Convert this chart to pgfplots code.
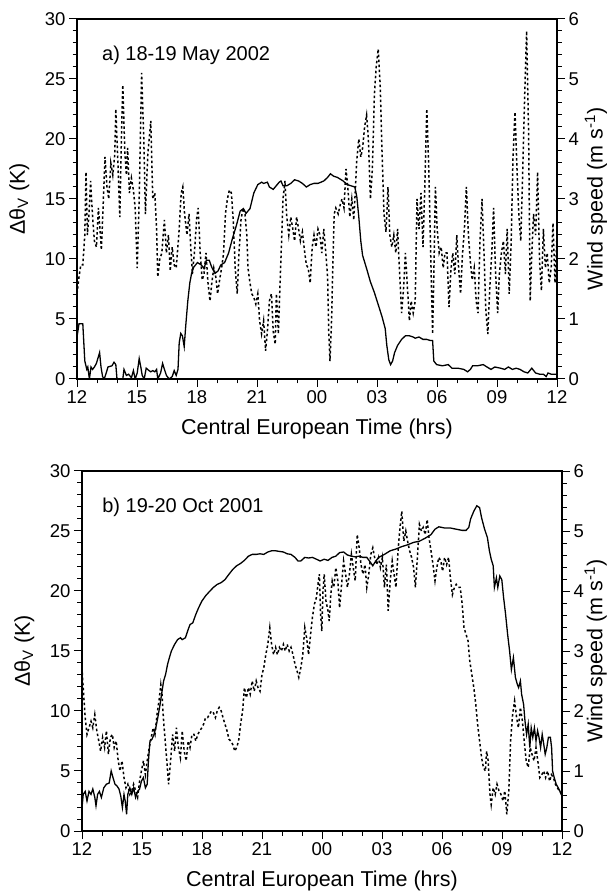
\documentclass[border=0pt]{standalone}
\usepackage{fontspec}
\setmainfont{Liberation Sans}
\usepackage{pgfplots}
\usepackage{pgfplotstable}
\pgfplotsset{compat=1.18}

% hours after 12:00 CET; dt in K, ws in m/s
\pgfplotstableread{
h dt
0.00 3.5
0.10 4.6
0.29 4.6
0.39 1.5
0.49 0.8
0.54 1.0
0.62 0
0.70 1.0
0.78 0.8
0.87 1.0
0.97 1.3
1.13 2.2
1.20 1.0
1.28 0.2
1.36 0
1.46 0.5
1.55 1.0
1.75 1.1
1.85 1.4
1.94 1.2
2.00 0
2.29 0
2.35 0.8
2.47 0.3
2.58 0.4
2.72 0.1
2.82 0.7
2.91 0
3.01 0.5
3.11 1.7
3.19 1.0
3.26 0.3
3.36 0
3.46 0.9
3.60 0.7
3.69 0.6
3.79 0.7
3.89 0.6
3.98 0.8
4.04 0.0
4.18 0.5
4.28 1.3
4.37 0.8
4.47 0.3
4.61 0
4.76 0.2
4.86 0.7
4.96 0.3
5.05 0.8
5.11 3.0
5.19 3.8
5.27 3.6
5.36 2.7
5.44 4.5
5.54 6.5
5.64 8.0
5.73 8.8
5.83 9.3
6.02 9.7
6.22 9.5
6.35 9.2
6.47 9.9
6.61 9.9
6.74 9.3
6.90 8.8
7.05 9.0
7.19 9.5
7.38 9.7
7.58 10.5
7.77 11.7
7.97 12.8
8.16 14.0
8.32 14.2
8.45 13.8
8.65 14.2
8.84 15.5
9.04 16.2
9.23 16.4
9.33 16.3
9.52 16.4
9.62 16.0
9.81 15.8
10.01 16.2
10.11 16.4
10.20 16.5
10.30 16.1
10.49 16.1
10.69 16.3
10.88 16.6
11.08 16.5
11.27 16.3
11.47 16.0
11.66 16.2
11.85 16.3
12.05 16.3
12.34 16.5
12.53 16.8
12.67 17.1
12.83 16.9
13.02 16.8
13.31 16.5
13.51 16.2
13.70 16.1
13.89 16.0
13.99 15.2
14.09 13.5
14.19 11.5
14.28 10.3
14.48 9.2
14.67 8.1
14.87 7.2
15.06 6.2
15.25 5.2
15.41 4.2
15.49 2.8
15.59 1.6
15.68 1.2
15.78 1.5
15.88 2.2
16.03 2.8
16.23 3.3
16.42 3.6
16.62 3.6
16.81 3.5
16.91 3.4
17.10 3.5
17.30 3.3
17.49 3.3
17.68 3.2
17.78 3.2
17.84 1.5
17.98 1.2
18.27 1.1
18.56 1.2
18.75 0.9
19.04 0.9
19.34 0.8
19.53 0.6
19.67 0.8
19.78 1.1
20.02 1.1
20.31 1.2
20.50 1.0
20.70 0.8
20.89 1.0
21.18 0.9
21.38 0.8
21.57 1.0
21.77 0.8
21.96 0.9
22.15 0.8
22.35 0.6
22.54 0.5
22.74 0.9
22.93 0.5
23.13 0.4
23.32 0.4
23.46 0.2
23.55 0.5
23.71 0.4
23.90 0.4
24.00 0.4
}\dtMay

\pgfplotstableread{
h ws
0.00 1.42
0.10 1.7
0.19 1.9
0.29 1.9
0.39 2.4
0.45 3.45
0.52 2.4
0.60 2.75
0.68 3.3
0.78 2.7
0.87 2.3
0.97 2.2
1.07 2.85
1.17 2.4
1.22 2.15
1.32 3.0
1.40 3.7
1.50 3.2
1.59 3.0
1.69 3.6
1.79 3.4
1.89 3.75
1.94 4.5
2.04 3.65
2.14 2.7
2.23 4.15
2.29 4.9
2.39 3.8
2.47 3.4
2.53 3.85
2.62 3.1
2.72 3.35
2.82 3.15
2.91 2.85
3.01 1.85
3.11 3.0
3.23 5.1
3.34 4.0
3.42 2.75
3.54 3.75
3.69 4.3
3.79 3.0
3.89 3.1
3.98 2.5
4.04 1.7
4.14 2.0
4.24 2.1
4.37 2.65
4.47 2.1
4.57 2.4
4.66 1.8
4.76 2.2
4.86 1.9
4.96 1.85
5.09 2.4
5.21 3.1
5.29 3.2
5.38 2.75
5.50 2.4
5.60 2.75
5.67 2.3
5.77 1.75
5.87 2.1
5.99 2.7
6.06 2.85
6.16 2.1
6.26 1.65
6.35 1.75
6.45 2.1
6.55 1.6
6.65 1.3
6.74 1.6
6.84 1.85
6.94 1.7
7.03 1.42
7.13 1.65
7.23 1.85
7.33 2.1
7.42 2.75
7.52 3.0
7.62 3.15
7.72 3.1
7.81 2.65
7.91 1.85
8.01 1.42
8.10 2.1
8.20 2.65
8.30 2.85
8.40 2.75
8.49 2.4
8.55 1.85
8.65 1.6
8.74 1.42
8.84 1.36
8.94 1.25
9.04 1.42
9.13 0.97
9.23 0.75
9.33 0.97
9.43 0.47
9.52 0.8
9.62 1.3
9.72 1.42
9.81 0.8
9.91 0.58
9.97 1.42
10.07 0.75
10.14 1.47
10.24 2.4
10.30 3.0
10.40 3.3
10.49 2.7
10.59 2.4
10.69 2.7
10.79 2.5
10.88 2.3
10.98 2.7
11.08 2.5
11.17 2.3
11.27 2.45
11.37 2.15
11.47 1.9
11.56 1.85
11.66 1.6
11.76 2.2
11.85 2.4
11.95 2.2
12.05 2.5
12.15 2.4
12.24 2.1
12.34 2.5
12.44 2.1
12.53 1.7
12.59 0.75
12.65 0.3
12.73 1.0
12.79 1.85
12.86 2.75
12.94 2.85
13.06 2.75
13.16 2.9
13.25 3.0
13.35 2.85
13.45 3.5
13.54 3.2
13.64 2.7
13.74 3.0
13.84 2.65
13.91 3.1
13.99 3.65
14.09 4.0
14.19 3.7
14.28 3.85
14.38 4.2
14.48 4.4
14.57 4.0
14.67 3.0
14.77 3.5
14.87 4.75
14.96 5.2
15.06 5.5
15.16 4.9
15.25 3.8
15.35 2.75
15.45 2.45
15.55 3.2
15.64 2.4
15.74 2.2
15.84 2.4
15.94 2.1
16.03 2.5
16.13 1.75
16.23 1.1
16.32 1.47
16.42 2.1
16.52 1.53
16.62 0.97
16.71 1.3
16.81 1.1
16.91 1.3
17.00 3.0
17.10 2.5
17.20 3.1
17.30 2.2
17.39 3.2
17.49 4.5
17.59 3.5
17.68 2.15
17.78 0.75
17.84 1.7
17.92 3.2
18.01 2.5
18.11 2.1
18.21 2.2
18.31 1.85
18.40 2.1
18.50 2.1
18.60 1.2
18.69 1.8
18.79 2.1
18.89 1.75
18.99 2.4
19.08 1.85
19.18 1.42
19.28 2.1
19.37 2.5
19.47 3.2
19.57 2.4
19.67 1.95
19.76 1.65
19.86 1.85
19.96 1.3
20.05 1.1
20.15 2.3
20.25 3.0
20.35 2.1
20.44 1.15
20.54 0.75
20.64 1.53
20.74 2.1
20.83 2.85
20.93 1.75
21.03 1.1
21.12 1.75
21.22 2.1
21.32 2.3
21.42 1.75
21.51 2.5
21.61 1.42
21.71 2.3
21.80 3.7
21.90 4.45
22.00 3.5
22.09 2.75
22.19 2.3
22.29 3.5
22.39 4.8
22.48 5.8
22.58 4.1
22.66 1.3
22.74 2.1
22.83 2.75
22.93 2.4
23.03 3.45
23.13 1.95
23.22 1.47
23.32 2.5
23.42 1.85
23.51 2.1
23.61 1.6
23.71 1.85
23.80 2.6
23.90 1.6
24.00 2.4
}\wsMay

\pgfplotstableread{
h dt
0.00 1.9
0.06 3.05
0.16 3.3
0.25 2.5
0.35 3.3
0.45 3.05
0.54 3.5
0.64 2.8
0.70 2.1
0.78 3.05
0.87 3.3
0.97 2.8
1.09 3.6
1.22 3.9
1.36 4.0
1.46 5.0
1.55 4.45
1.65 3.9
1.75 3.75
1.85 3.5
1.94 2.9
2.02 1.95
2.10 3.05
2.16 2.5
2.23 1.4
2.29 3.05
2.39 3.6
2.49 3.05
2.58 3.6
2.68 2.8
2.78 3.3
2.88 3.5
2.97 4.15
3.07 4.45
3.17 3.6
3.26 3.9
3.32 5.8
3.40 7.5
3.50 7.65
3.60 8.05
3.69 8.6
3.79 9.45
3.89 10.4
3.98 11.4
4.08 12.5
4.18 13.05
4.28 13.9
4.37 14.45
4.47 15.0
4.63 15.55
4.78 15.95
4.92 16.1
5.01 15.95
5.17 16.1
5.31 16.8
5.40 17.2
5.54 17.35
5.69 18.05
5.83 18.6
5.99 19.15
6.18 19.6
6.37 19.95
6.57 20.3
6.76 20.55
6.96 20.7
7.15 20.95
7.35 21.4
7.54 21.8
7.73 22.1
7.93 22.3
8.12 22.55
8.32 22.9
8.51 23.05
8.71 23.05
8.90 23.1
9.09 23.05
9.29 23.25
9.48 23.35
9.68 23.35
9.87 23.3
10.07 23.25
10.26 23.1
10.45 23.05
10.65 22.8
10.80 22.5
10.94 22.5
11.14 22.8
11.33 22.75
11.52 22.8
11.72 22.65
11.91 22.5
12.11 22.65
12.30 22.55
12.50 22.8
12.69 22.9
12.88 23.2
13.08 23.25
13.27 23.0
13.47 22.9
13.66 22.85
13.86 22.9
14.05 22.8
14.24 22.8
14.44 22.35
14.54 22.1
14.63 22.35
14.83 22.8
15.12 23.05
15.41 23.35
15.70 23.5
15.99 23.7
16.28 23.85
16.58 24.05
16.87 24.15
17.16 24.4
17.45 24.7
17.65 25.15
17.84 25.35
18.13 25.25
18.42 25.25
18.71 25.15
19.01 25.05
19.20 25.05
19.34 25.3
19.43 26.0
19.59 26.65
19.74 27.1
19.88 26.95
19.98 26.1
20.13 25.15
20.27 24.45
20.37 23.35
20.46 22.65
20.56 22.1
20.62 20.3
20.72 21.1
20.79 20.3
20.89 21.25
20.99 20.95
21.08 19.45
21.18 18.05
21.28 16.4
21.38 15.0
21.47 13.45
21.57 14.45
21.67 12.8
21.77 12.2
21.83 11.95
21.92 12.5
21.98 11.4
22.08 10.55
22.15 9.15
22.23 8.05
22.31 8.9
22.39 6.95
22.46 8.6
22.54 7.8
22.62 8.6
22.70 7.5
22.78 8.35
22.85 7.8
22.93 6.95
23.01 8.05
23.09 7.2
23.16 6.4
23.24 6.95
23.32 7.8
23.42 7.8
23.48 6.95
23.53 5.0
23.61 4.45
23.71 3.9
23.81 3.6
23.90 3.3
24.00 2.9
}\dtOct

\pgfplotstableread{
h ws
0.00 2.72
0.06 2.39
0.16 1.89
0.25 1.61
0.35 1.72
0.45 1.83
0.54 1.72
0.64 1.94
0.74 1.67
0.84 1.5
0.93 1.33
1.03 1.56
1.13 1.39
1.22 1.67
1.32 1.28
1.42 1.56
1.52 1.61
1.61 1.39
1.71 1.5
1.81 1.17
1.90 1.0
2.00 1.17
2.10 0.89
2.20 0.72
2.29 0.78
2.39 0.61
2.49 0.67
2.58 0.78
2.68 0.67
2.78 0.56
2.88 0.83
2.97 1.0
3.07 1.17
3.17 0.94
3.26 1.17
3.36 1.39
3.46 1.56
3.56 1.72
3.65 1.61
3.75 1.94
3.85 2.17
3.94 2.44
4.00 2.28
4.08 1.83
4.16 1.5
4.24 1.17
4.33 0.78
4.43 1.17
4.53 1.61
4.63 1.33
4.72 1.72
4.82 1.39
4.92 1.22
5.01 1.67
5.11 1.33
5.21 1.17
5.31 1.5
5.40 1.39
5.50 1.61
5.60 1.61
5.69 1.5
5.79 1.61
5.89 1.67
5.99 1.72
6.08 1.78
6.18 1.89
6.28 1.89
6.37 1.94
6.47 2.0
6.57 1.97
6.67 1.89
6.76 2.0
6.86 2.06
6.96 2.0
7.05 1.89
7.15 1.78
7.25 1.67
7.35 1.53
7.44 1.5
7.54 1.44
7.64 1.33
7.73 1.39
7.83 1.5
7.93 1.78
8.03 2.0
8.12 2.39
8.22 2.22
8.32 2.39
8.41 2.28
8.51 2.5
8.61 2.33
8.71 2.5
8.80 2.39
8.90 2.33
9.00 2.61
9.09 2.72
9.19 2.94
9.29 3.11
9.39 3.39
9.48 3.11
9.58 2.94
9.68 3.06
9.77 2.94
9.87 3.06
9.97 3.0
10.07 3.11
10.16 3.0
10.26 3.11
10.36 3.0
10.45 3.06
10.55 2.94
10.65 2.78
10.75 2.67
10.84 2.56
10.94 2.72
11.04 2.94
11.14 3.39
11.23 3.22
11.33 2.94
11.43 3.28
11.52 3.56
11.62 3.78
11.72 3.89
11.82 4.17
11.87 4.28
11.93 3.61
11.99 3.33
12.05 4.0
12.11 4.28
12.20 3.83
12.30 3.67
12.36 3.5
12.44 3.94
12.51 4.17
12.59 4.06
12.69 4.39
12.79 4.17
12.88 3.72
12.98 4.11
13.08 4.5
13.18 4.28
13.27 4.06
13.37 4.28
13.47 4.61
13.56 4.39
13.66 4.17
13.76 4.94
13.86 4.72
13.95 4.44
14.05 4.28
14.15 4.44
14.24 4.06
14.34 4.28
14.44 4.61
14.54 4.72
14.63 4.56
14.73 4.44
14.83 4.56
14.92 4.39
15.02 4.56
15.12 4.06
15.22 4.44
15.31 3.67
15.41 4.17
15.51 4.5
15.60 4.28
15.70 4.06
15.80 4.67
15.90 5.06
15.99 5.33
16.09 4.83
16.19 5.0
16.28 4.83
16.38 4.67
16.48 4.56
16.58 4.39
16.67 4.06
16.77 4.56
16.87 5.11
16.97 5.0
17.06 5.06
17.16 4.94
17.26 5.19
17.35 4.89
17.45 4.67
17.55 4.44
17.65 4.17
17.74 4.39
17.84 4.56
17.94 4.5
18.03 4.33
18.13 4.56
18.23 4.44
18.33 4.56
18.42 4.22
18.52 3.94
18.62 4.06
18.71 4.11
18.81 4.06
18.91 4.06
19.01 3.78
19.10 3.39
19.20 3.28
19.30 3.17
19.39 2.83
19.49 2.61
19.59 2.39
19.69 2.11
19.78 1.78
19.88 1.5
19.98 1.22
20.07 1.06
20.17 1.0
20.23 1.33
20.31 1.17
20.40 0.61
20.46 0.44
20.56 0.72
20.66 0.61
20.75 0.78
20.85 0.67
20.95 0.61
21.05 0.5
21.14 0.67
21.24 0.28
21.34 0.67
21.43 1.5
21.53 1.94
21.63 2.17
21.73 1.89
21.82 1.72
21.92 2.06
22.02 1.83
22.11 1.5
22.21 1.17
22.31 1.06
22.41 1.39
22.50 1.28
22.60 1.17
22.70 1.39
22.79 1.17
22.89 0.89
22.99 0.94
23.09 1.0
23.18 0.89
23.28 1.0
23.38 0.83
23.47 0.94
23.57 0.89
23.67 0.78
23.77 0.72
23.86 0.67
24.00 0.61
}\wsOct

\pgfplotsset{
  base/.style={
    scale only axis, width=480pt, height=360pt,
    xmin=0, xmax=24,
    tick align=outside,
    major tick length=8pt, minor tick length=4.5pt,
    every tick/.style={black, line width=1pt},
    axis line style={line width=1.4pt},
    tick label style={font=\fontsize{18.5}{20}\selectfont},
    label style={font=\fontsize{21.5}{24}\selectfont},
    /pgf/number format/assume math mode=true,
  },
  leftax/.style={base,
    ymin=0, ymax=30, ytick={0,5,...,30}, minor y tick num=4,
    xtick={0,3,...,24}, xticklabels={12,15,18,21,00,03,06,09,12},
    minor x tick num=2,
    xtick pos=left, ytick pos=left,
    xlabel={Central European Time (hrs)},
    ylabel={Δθ\textsubscript{V} (K)},
    xlabel style={at={(axis description cs:0.5,-0.14)}, anchor=center},
    ylabel style={at={(axis description cs:-0.12,0.5)}, anchor=center},
  },
  rightax/.style={base,
    axis y line*=right, axis x line=none,
    ymin=0, ymax=6, ytick={0,...,6}, minor y tick num=4,
    ylabel={Wind speed (m s\textsuperscript{-1})},
  },
  theta/.style={black, line width=1.3pt},
  wind/.style={black, line width=1.5pt, dash pattern=on 2.5pt off 2.5pt},
}

\begin{document}
\begin{tikzpicture}
  \useasboundingbox (0,0) rectangle (609pt,895pt);

  % a) 18-19 May 2002
  \begin{axis}[leftax, at={(77pt,516pt)}, anchor=south west]
    \addplot[theta] table[x=h, y=dt] {\dtMay};
    \node[anchor=west, inner sep=0pt, font=\fontsize{20}{23}\selectfont]
      at (rel axis cs:0.052,0.9) {a) 18-19 May 2002};
  \end{axis}
  \begin{axis}[rightax, at={(77pt,516pt)}, anchor=south west,
      ylabel style={at={(axis description cs:1.081,0.5)}, anchor=center}]
    \addplot[wind] table[x=h, y=ws] {\wsMay};
  \end{axis}

  % b) 19-20 Oct 2001
  \begin{axis}[leftax, at={(82pt,64pt)}, anchor=south west]
    \addplot[theta] table[x=h, y=dt] {\dtOct};
    \node[anchor=west, inner sep=0pt, font=\fontsize{20}{23}\selectfont]
      at (rel axis cs:0.042,0.9) {b) 19-20 Oct 2001};
  \end{axis}
  \begin{axis}[rightax, at={(82pt,64pt)}, anchor=south west,
      ylabel style={at={(axis description cs:1.07,0.5)}, anchor=center}]
    \addplot[wind] table[x=h, y=ws] {\wsOct};
  \end{axis}
\end{tikzpicture}
\end{document}
